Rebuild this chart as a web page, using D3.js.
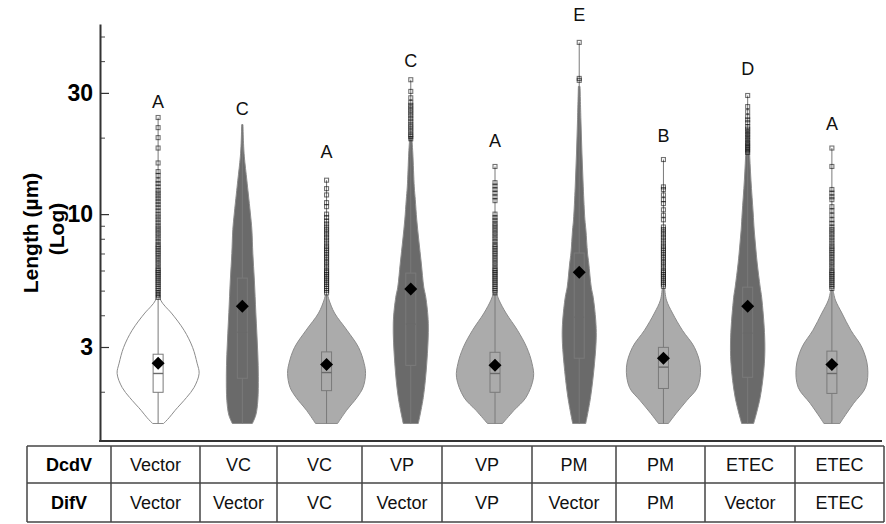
<!DOCTYPE html>
<html>
<head>
<meta charset="utf-8">
<script src="https://cdn.jsdelivr.net/npm/d3@7"></script>
<style>
  html, body { margin: 0; padding: 0; background: #fff; }
  svg { display: block; font-family: "Liberation Sans", Arial, sans-serif; }
</style>
</head>
<body>
<svg id="chart" width="886" height="524"></svg>
<script>
// ---- data -------------------------------------------------------------
// Decoding vector / differentiation vector for each group
const dcdV = ["Vector", "VC", "VC", "VP", "VP", "PM", "PM", "ETEC", "ETEC"];
const difV = ["Vector", "Vector", "VC", "Vector", "VP", "Vector", "PM", "Vector", "ETEC"];

// Significance letters and the length (µm) at which each one sits
const letters = ["A", "C", "A", "C", "A", "E", "B", "D", "A"];
const letterLevel = [26.2, 24.6, 16.7, 38.1, 18.4, 57.3, 19.3, 35.4, 21.5];

// Box-plot summaries, length in µm
const lowerEnd = [1.5, 1.5, 1.5, 1.5, 1.5, 1.5, 1.5, 1.5, 1.5];
const q1 = [1.99, 2.26, 2.02, 2.54, 1.99, 2.71, 2.06, 2.28, 1.97];
const median = [2.36, 3.43, 2.38, 3.69, 2.36, 3.93, 2.50, 3.40, 2.36];
const q3 = [2.81, 5.60, 2.87, 5.86, 2.86, 7.03, 2.99, 5.16, 2.89];
const mean = [2.59, 4.34, 2.56, 5.07, 2.54, 5.91, 2.71, 4.34, 2.56];
const upperEnd = [24.0, 22.5, 13.6, 33.8, 15.4, 47.4, 16.4, 29.3, 18.2];

// Relative kernel density along length: [length µm, density 0..1]
const density = [
  [[1.50,.134],[1.58,.268],[1.69,.415],[1.90,.695],[2.08,.878],[2.36,1.0],[2.59,.951],[2.99,.841],[3.49,.634],[4.08,.324],[4.34,.171],[4.59,.061],[5.0,.024]],
  [[1.50,.244],[1.62,.329],[1.85,.378],[2.3,.39],[2.8,.378],[3.4,.354],[4.1,.329],[5.5,.293],[7.0,.256],[8.7,.232],[10.1,.195],[12,.146],[13.6,.11],[16.8,.049],[19,.029],[22.5,.015]],
  [[1.50,.268],[1.69,.488],[1.90,.744],[2.08,.89],[2.36,.951],[2.59,.915],[2.99,.78],[3.49,.5],[4.08,.195],[4.59,.061],[4.8,.029]],
  [[1.50,.183],[1.90,.305],[2.59,.39],[3.72,.427],[4.71,.366],[5.16,.317],[6.42,.256],[7.91,.195],[9.49,.146],[11.4,.11],[12.8,.085],[17.4,.049],[20.2,.024]],
  [[1.50,.183],[1.69,.463],[1.90,.756],[2.28,.939],[2.59,.902],[2.99,.773],[3.49,.549],[4.08,.268],[4.59,.098],[4.89,.037]],
  [[1.50,.159],[1.90,.276],[2.59,.373],[3.28,.415],[3.83,.402],[4.71,.341],[5.16,.293],[6.42,.232],[7.03,.202],[8.66,.163],[9.49,.139],[12.8,.098],[17.4,.066],[23.5,.041],[31.8,.02]],
  [[1.50,.122],[1.64,.305],[1.85,.573],[2.08,.829],[2.50,.902],[2.99,.756],[3.49,.463],[4.08,.22],[4.59,.073],[5.11,.029]],
  [[1.50,.146],[1.90,.305],[2.59,.407],[3.28,.415],[4.71,.341],[5.16,.305],[6.42,.232],[7.42,.195],[8.66,.159],[10.1,.134],[13.6,.08],[18.2,.041],[21.5,.024]],
  [[1.50,.195],[1.58,.285],[1.80,.529],[2.08,.822],[2.50,.871],[2.99,.732],[3.49,.463],[4.08,.244],[4.59,.085],[5.02,.029]]
];

// Outlying lengths (µm) above the upper whisker
const outliers = [
  [24.0,21.9,20.0,18.2,15.9,14.7,14.2,13.6,13.2,12.8,12.4,12.1,11.8,11.5,11.2,10.9,10.6,10.3,10.0,9.75,9.5,9.25,9.0,8.8,8.6,8.4,8.2,8.0,7.8,7.6,7.45,7.3,7.15,7.0,6.85,6.7,6.55,6.4,6.25,6.1,6.0,5.9,5.8,5.7,5.6,5.5,5.4,5.3,5.2,5.1,5.0,4.9,4.8,4.7],
  [],
  [13.6,12.6,11.9,11.1,10.7,10.0,9.7,9.4,9.15,8.9,8.7,8.5,8.3,8.1,7.9,7.7,7.5,7.35,7.2,7.05,6.9,6.75,6.6,6.45,6.3,6.15,6.0,5.9,5.8,5.7,5.6,5.5,5.4,5.3,5.2,5.1,5.0,4.9],
  [33.8,30.4,28.7,27.5,26.8,26.2,25.6,25.0,24.4,23.8,23.2,22.6,22.1,21.6,21.1,20.6,20.2,19.8],
  [15.4,13.3,12.9,12.5,12.1,11.7,11.3,10.0,9.7,9.45,9.2,9.0,8.8,8.6,8.4,8.2,8.0,7.8,7.6,7.45,7.3,7.15,7.0,6.85,6.7,6.55,6.4,6.25,6.1,6.0,5.9,5.8,5.7,5.6,5.5,5.4,5.3,5.2,5.1,5.0,4.9],
  [47.4,34.2,33.6],
  [16.4,12.8,12.5,11.9,11.4,11.0,10.4,9.9,9.5,8.9,8.7,8.5,8.3,8.1,7.9,7.7,7.5,7.35,7.2,7.05,6.9,6.75,6.6,6.45,6.3,6.15,6.0,5.9,5.8,5.7,5.6,5.5,5.4,5.3,5.2],
  [29.3,26.5,25.3,24.2,23.5,22.9,22.1,21.6,21.1,20.6,20.1,19.6,19.1,18.7,18.3,17.9,17.5],
  [18.2,15.4,12.5,12.1,11.7,11.4,10.7,10.3,9.9,9.5,9.2,8.9,8.7,8.5,8.3,8.1,7.9,7.7,7.5,7.35,7.2,7.05,6.9,6.75,6.6,6.45,6.3,6.15,6.0,5.9,5.8,5.7,5.6,5.5,5.4,5.3,5.2,5.1]
];

// Axis ticks
const majorTicks = [3, 10, 30];
const minorTicks = [2, 4, 5, 6, 7, 8, 9, 20, 40, 50];

// ---- layout -----------------------------------------------------------
const svg = d3.select("#chart");
const axisX = 100, axisRight = 882;
const colEdges = [27, 111, 200, 277, 362, 442, 532, 616, 705, 795, 884];
const rowEdges = [446, 483, 522];

const groups = d3.range(dcdV.length);
const x = d3.scaleBand().domain(groups).range([116, 874]).padding(0);
const y = d3.scaleLog().domain([1.28, 56]).range([441, 24]);
const w = d3.scaleLinear().domain([0, 1]).range([0, 41]);

const COLORS = { white: "#ffffff", dark: "#6a6a6a", light: "#ababab" };
const toneOf = i => dcdV[i] === "Vector" ? "white" : (difV[i] === "Vector" ? "dark" : "light");

// ---- axes -------------------------------------------------------------
const gMinor = svg.append("g").attr("transform", `translate(${axisX},0)`)
  .call(d3.axisLeft(y).tickValues(minorTicks).tickFormat(() => "").tickSizeInner(-5).tickSizeOuter(0));
gMinor.select(".domain").remove();
gMinor.selectAll(".tick line").attr("stroke", "#444").attr("stroke-width", 1);

const gMajor = svg.append("g").attr("transform", `translate(${axisX},0)`)
  .call(d3.axisLeft(y).tickValues(majorTicks).tickFormat(d3.format("d")).tickSizeInner(-9).tickSizeOuter(0).tickPadding(7));
gMajor.select(".domain").attr("stroke", "#333").attr("stroke-width", 2);
gMajor.selectAll(".tick line").attr("stroke", "#333").attr("stroke-width", 1.2);
gMajor.selectAll(".tick text")
  .attr("font-family", "'Liberation Sans', Arial, sans-serif")
  .attr("font-size", 23).attr("font-weight", "bold").attr("fill", "#000");

// bottom frame line
svg.append("line")
  .attr("x1", axisX - 1).attr("x2", axisRight)
  .attr("y1", y.range()[0]).attr("y2", y.range()[0])
  .attr("stroke", "#333").attr("stroke-width", 2);

// y-axis title
const yTitle = [["Length (µm)", 31, 233], ["(Log)", 57, 229]];
svg.selectAll("text.ytitle").data(yTitle).join("text")
  .attr("class", "ytitle")
  .attr("transform", d => `translate(${d[1]},${d[2]}) rotate(-90)`)
  .attr("text-anchor", "middle").attr("dy", "0.35em")
  .attr("font-size", 21).attr("font-weight", "bold").attr("fill", "#000")
  .text(d => d[0]);

// ---- violins ----------------------------------------------------------
const plot = svg.append("g");
groups.forEach(i => {
  const cx = x(i) + x.bandwidth() / 2;
  const fill = COLORS[toneOf(i)];
  const g = plot.append("g");

  const area = d3.area()
    .y(d => y(d[0]))
    .x0(d => cx - w(d[1]))
    .x1(d => cx + w(d[1]))
    .curve(d3.curveCatmullRom.alpha(0.5));
  g.append("path").datum(density[i]).attr("d", area)
    .attr("fill", fill).attr("stroke", "#8c8c8c").attr("stroke-width", 1);

  // full-range line
  g.append("line").attr("x1", cx).attr("x2", cx)
    .attr("y1", y(lowerEnd[i])).attr("y2", y(upperEnd[i]))
    .attr("stroke", "#7a7a7a").attr("stroke-width", 1);

  // box
  const bw = 10;
  g.append("rect").attr("x", cx - bw / 2).attr("width", bw)
    .attr("y", y(q3[i])).attr("height", y(q1[i]) - y(q3[i]))
    .attr("fill", fill).attr("stroke", "#7a7a7a").attr("stroke-width", 1);
  g.append("line").attr("x1", cx - bw / 2).attr("x2", cx + bw / 2)
    .attr("y1", y(median[i])).attr("y2", y(median[i]))
    .attr("stroke", "#6a6a6a").attr("stroke-width", 1.4);

  // outliers
  g.selectAll("rect.out").data(outliers[i]).join("rect")
    .attr("class", "out")
    .attr("x", cx - 2).attr("y", d => y(d) - 2)
    .attr("width", 4).attr("height", 4)
    .attr("fill", "none").attr("stroke", "#000").attr("stroke-opacity", 0.55).attr("stroke-width", 1.1);

  // mean
  const my = y(mean[i]), r = 6.5;
  g.append("path")
    .attr("d", `M${cx},${my - r}L${cx + r},${my}L${cx},${my + r}L${cx - r},${my}Z`)
    .attr("fill", "#000");

  // letter
  g.append("text").attr("x", cx).attr("y", y(letterLevel[i]))
    .attr("text-anchor", "middle").attr("font-size", 18).attr("fill", "#111")
    .text(letters[i]);
});

// ---- table ------------------------------------------------------------
const table = svg.append("g");
const lineCol = "#444";
rowEdges.forEach(ry => table.append("line")
  .attr("x1", colEdges[0]).attr("x2", colEdges[colEdges.length - 1])
  .attr("y1", ry).attr("y2", ry).attr("stroke", lineCol).attr("stroke-width", 1.5));
colEdges.forEach(cx => table.append("line")
  .attr("x1", cx).attr("x2", cx)
  .attr("y1", rowEdges[0]).attr("y2", rowEdges[rowEdges.length - 1])
  .attr("stroke", lineCol).attr("stroke-width", 1.5));

const rows = [["DcdV", dcdV], ["DifV", difV]];
rows.forEach((row, r) => {
  const cy = (rowEdges[r] + rowEdges[r + 1]) / 2;
  table.append("text").attr("x", (colEdges[0] + colEdges[1]) / 2).attr("y", cy)
    .attr("dy", "0.35em").attr("text-anchor", "middle")
    .attr("font-size", 18).attr("font-weight", "bold").attr("fill", "#000")
    .text(row[0]);
  row[1].forEach((label, c) => {
    table.append("text").attr("x", (colEdges[c + 1] + colEdges[c + 2]) / 2).attr("y", cy)
      .attr("dy", "0.35em").attr("text-anchor", "middle")
      .attr("font-size", 18).attr("fill", "#111")
      .text(label);
  });
});
</script>
</body>
</html>
